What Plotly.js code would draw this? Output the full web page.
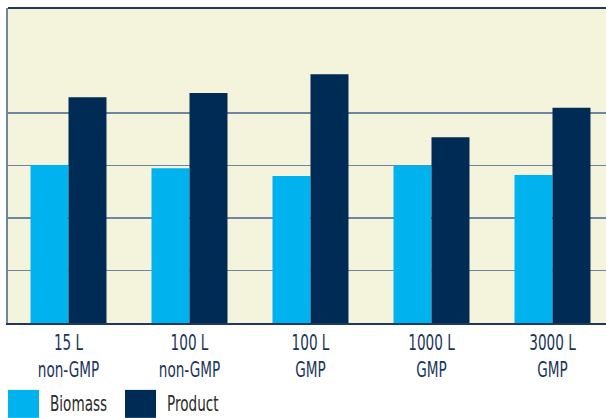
<!DOCTYPE html>
<html>
<head>
<meta charset="utf-8">
<script src="https://cdn.plot.ly/plotly-3.0.1.min.js"></script>
<style>
html,body{margin:0;padding:0;overflow:hidden;background:#fff;}
#chart{width:613px;height:418px;}
</style>
</head>
<body>
<div id="chart"></div>
<script>
var categories = ["15 L<br>non-GMP", "100 L<br>non-GMP", "100 L<br>GMP", "1000 L<br>GMP", "3000 L<br>GMP"];
var seriesNames = ["Biomass", "Product"];
var biomass = [3.01, 2.95, 2.80, 3.00, 2.82];
var product = [4.30, 4.38, 4.74, 3.54, 4.10];
var gridVals = [1, 2, 3, 4];
var colors = ["#00b2ee", "#002b55"];

var FONT = "DejaVu Sans Condensed, Liberation Sans Narrow, sans-serif";
var SQUEEZE = 0.72;

var traces = [
  {type: "bar", x: categories, y: biomass, name: seriesNames[0], marker: {color: colors[0]}, hoverinfo: "none"},
  {type: "bar", x: categories, y: product, name: seriesNames[1], marker: {color: colors[1]}, hoverinfo: "none"}
];

var plotTop = 7.5, plotBottom = 323, H = plotBottom - plotTop, W = 605, L = 8;
function py(y){ return (plotBottom - y) / H; }
function px(x){ return (x - L) / W; }
var legendX = [[8, 39, 48], [125, 156, 165]];
var shapes = [
  {type: "line", xref: "paper", yref: "paper", x0: 0, x1: 1, y0: 1, y1: 1, line: {color: "#1f3a5c", width: 2}}
];
var annotations = [];
for (var i = 0; i < seriesNames.length; i++) {
  shapes.push({type: "rect", xref: "paper", yref: "paper",
    x0: px(legendX[i][0]), x1: px(legendX[i][1]), y0: py(418), y1: py(390),
    fillcolor: colors[i], line: {width: 0}});
  annotations.push({xref: "paper", yref: "paper", x: px(legendX[i][2]), y: py(404),
    xanchor: "left", yanchor: "middle", showarrow: false, text: seriesNames[i],
    font: {family: FONT, size: 21, color: "#2b2b2b"}});
}

var layout = {
  width: 613, height: 418,
  margin: {l: 8, r: 0, t: 7.5, b: 95, pad: 0},
  paper_bgcolor: "#ffffff",
  plot_bgcolor: "#f4f3db",
  barmode: "group",
  bargap: 0.372,
  bargroupgap: 0,
  showlegend: false,
  xaxis: {
    type: "category",
    showline: true, linecolor: "#1f3a5c", linewidth: 2,
    showgrid: false, ticks: "",
    tickfont: {family: FONT, size: 21, color: "#1a355a"},
    fixedrange: true
  },
  yaxis: {
    range: [0, 6],
    tickvals: gridVals,
    showticklabels: false,
    showgrid: true, gridcolor: "#6f86a3", gridwidth: 1.5,
    showline: true, linecolor: "#6f86a3", linewidth: 2,
    zeroline: false, ticks: "",
    fixedrange: true
  },
  shapes: shapes,
  annotations: annotations
};

function squeeze(el, cx, s) {
  var t = el.getAttribute("transform") || "";
  el.setAttribute("transform", t + " translate(" + cx + ",0) scale(" + s + ",1) translate(" + (-cx) + ",0)");
}

Plotly.newPlot("chart", traces, layout, {displayModeBar: false, staticPlot: true}).then(function (gd) {
  gd.querySelectorAll(".xtick text").forEach(function (el) {
    var x = parseFloat(el.getAttribute("x")) || 0;
    squeeze(el, x, SQUEEZE);
  });
  gd.querySelectorAll(".annotation-text").forEach(function (el) {
    var b = el.getBBox();
    squeeze(el, b.x, SQUEEZE);
  });
});
</script>
</body>
</html>
